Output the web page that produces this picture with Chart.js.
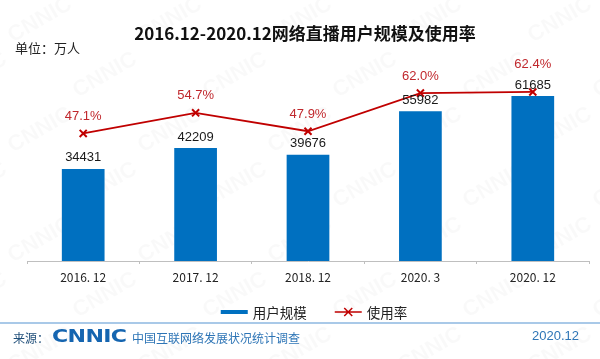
<!DOCTYPE html>
<html>
<head>
<meta charset="utf-8">
<script src="https://cdn.jsdelivr.net/npm/chart.js@4/dist/chart.umd.min.js"></script>
<style>
  html, body { margin: 0; padding: 0; background: #fff; }
  #wrap { position: relative; width: 600px; height: 359px; overflow: hidden; }
  canvas { position: absolute; left: 0; top: 0; }
  .t { position: absolute; white-space: nowrap; line-height: 1; }
</style>
</head>
<body>
<div id="wrap">
  <canvas id="c" width="600" height="359"></canvas>
  <div class="t" id="title" style="left:0;width:610px;text-align:center;top:20px;font:bold 17px 'Noto Sans CJK SC';color:#111;">2016.12-2020.12网络直播用户规模及使用率</div>
  <div class="t" style="left:15px;top:38px;font:13px 'Noto Sans CJK SC';color:#222;">单位：万人</div>
  <div style="position:absolute;left:0;top:322px;width:600px;height:2px;background:#a9c9e8;"></div>
  <div class="t" style="left:13px;top:329px;font:12px 'Noto Sans CJK SC';color:#1f4e79;">来源：</div>
  <div class="t" style="left:52px;top:326px;font:900 17px 'DejaVu Sans';color:#1565b0;transform:scaleX(1.3);transform-origin:left top;letter-spacing:-0.5px;">CNNIC</div>
  <div class="t" style="left:132px;top:329px;font:12px 'Noto Sans CJK SC';color:#2e75b6;">中国互联网络发展状况统计调查</div>
  <div class="t" style="right:21px;top:328px;font:13px 'Liberation Sans';color:#2e75b6;">2020.12</div>
</div>
<script>
const categories = ['2016. 12', '2017. 12', '2018. 12', '2020. 3', '2020. 12'];
const users = [34431, 42209, 39676, 55982, 61685];
const rates = [47.1, 54.7, 47.9, 62.0, 62.4];
const seriesNames = ['用户规模', '使用率'];

const BLUE = '#0070c0';
const RED = '#c00000';

const watermark = {
  id: 'watermark',
  beforeDraw(chart) {
    const ctx = chart.ctx;
    ctx.save();
    ctx.font = 'bold 22px "Liberation Sans"';
    ctx.fillStyle = 'rgba(0,0,0,0.022)';
    ctx.textAlign = 'center';
    ctx.textBaseline = 'middle';
    for (let row = -1; row < 8; row++) {
      for (let col = -1; col < 7; col++) {
        const x = col * 130 + (row % 2 ? 65 : 0) + 40;
        const y = row * 55 + 20;
        ctx.save();
        ctx.translate(x, y);
        ctx.rotate(-Math.PI / 6);
        ctx.fillText('CNNIC', 0, 0);
        ctx.restore();
      }
    }
    ctx.restore();
  }
};

const valueLabels = {
  id: 'valueLabels',
  afterDatasetsDraw(chart) {
    const ctx = chart.ctx;
    const bars = chart.getDatasetMeta(1).data;
    const pts = chart.getDatasetMeta(0).data;
    ctx.save();
    ctx.textAlign = 'center';
    ctx.textBaseline = 'middle';
    ctx.font = '13px "Liberation Sans"';
    bars.forEach((b, i) => {
      const by = b.y - 11;
      ctx.fillStyle = '#1a1a1a';
      ctx.fillText(String(users[i]), b.x, by);
      const p = pts[i];
      let py = p.y - 17;
      if (Math.abs(py - by) < 16) py = by - 21;
      ctx.fillStyle = '#c0282d';
      ctx.fillText(rates[i].toFixed(1) + '%', p.x, py);
    });
    ctx.restore();
  }
};

const customLegend = {
  id: 'customLegend',
  afterDraw(chart) {
    const ctx = chart.ctx;
    ctx.save();
    ctx.font = '13.5px "Noto Sans CJK SC"';
    ctx.textBaseline = 'middle';
    const w1 = ctx.measureText(seriesNames[0]).width;
    const w2 = ctx.measureText(seriesNames[1]).width;
    const sw = 27, gap = 5, itemGap = 28;
    const total = sw + gap + w1 + itemGap + sw + gap + w2;
    let x = 314 - total / 2;
    const y = 312;
    ctx.fillStyle = BLUE;
    ctx.fillRect(x, y - 2, sw, 4);
    x += sw + gap;
    ctx.fillStyle = '#222';
    ctx.fillText(seriesNames[0], x, y + 1);
    x += w1 + itemGap;
    ctx.strokeStyle = RED;
    ctx.lineWidth = 1.5;
    ctx.beginPath();
    ctx.moveTo(x, y); ctx.lineTo(x + sw, y);
    const cx = x + sw / 2, r = 4;
    ctx.moveTo(cx - r, y - r); ctx.lineTo(cx + r, y + r);
    ctx.moveTo(cx + r, y - r); ctx.lineTo(cx - r, y + r);
    ctx.stroke();
    x += sw + gap;
    ctx.fillStyle = '#222';
    ctx.fillText(seriesNames[1], x, y + 1);
    ctx.restore();
  }
};

new Chart(document.getElementById('c'), {
  data: {
    labels: categories,
    datasets: [
      {
        type: 'line',
        label: seriesNames[1],
        data: rates,
        yAxisID: 'y1',
        borderColor: RED,
        backgroundColor: RED,
        borderWidth: 1.8,
        pointStyle: 'crossRot',
        pointRadius: 5,
        pointBorderWidth: 2,
        pointBorderColor: RED,
        tension: 0,
        order: 1
      },
      {
        type: 'bar',
        label: seriesNames[0],
        data: users,
        yAxisID: 'y',
        backgroundColor: BLUE,
        borderWidth: 0,
        barPercentage: 0.38,
        categoryPercentage: 1,
        order: 2
      }
    ]
  },
  options: {
    responsive: false,
    animation: false,
    layout: { padding: { left: 27, right: 11, top: 47, bottom: 58 } },
    plugins: { legend: { display: false }, title: { display: false }, tooltip: { enabled: false } },
    scales: {
      x: {
        offset: true,
        afterFit: s => { s.height = 40; },
        grid: { display: true, drawOnChartArea: false, drawTicks: true, tickLength: 3, color: '#bfbfbf', offset: true },
        border: { display: true, color: '#bfbfbf', width: 1 },
        ticks: { color: '#222', font: { family: 'Noto Sans CJK SC', size: 12 }, padding: 6, maxRotation: 0 }
      },
      y: { display: false, min: 0, max: 80000 },
      y1: { display: false, min: 0, max: 79 }
    }
  },
  plugins: [watermark, valueLabels, customLegend]
});
</script>
</body>
</html>
